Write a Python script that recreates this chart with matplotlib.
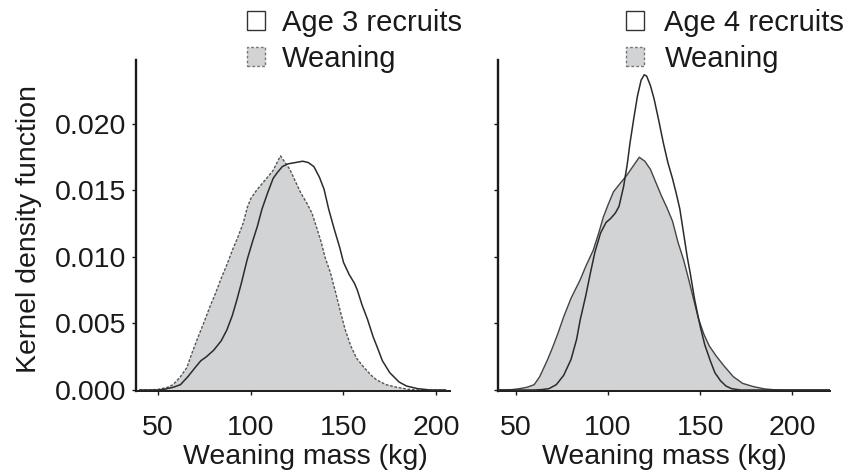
import matplotlib
matplotlib.use("Agg")
import matplotlib.pyplot as plt
from matplotlib.patches import Patch

plt.rcParams['font.family'] = ['Liberation Sans', 'DejaVu Sans']

# ---- data ----
# Left panel: weaning mass density
wean_L_x = [40, 45, 50, 55, 58, 62, 65.5, 68, 71, 75, 78, 81, 84, 87, 90, 93, 96, 98, 100, 103,
            106, 109, 112, 114.5, 116, 118, 121, 124, 127, 130, 133, 136, 138, 140, 143, 146,
            148.5, 151, 154, 157, 161, 165, 168, 173, 179, 185, 190, 205]
wean_L_y = [0, 0, 0.00005, 0.0002, 0.0004, 0.0010, 0.0017, 0.0027, 0.0038, 0.0052, 0.0063, 0.0073,
            0.0084, 0.0094, 0.0105, 0.0115, 0.0126, 0.0137, 0.0144, 0.0150, 0.0155, 0.0160, 0.0165,
            0.0172, 0.0176, 0.0172, 0.0166, 0.0157, 0.0148, 0.0141, 0.0133, 0.0120, 0.0111, 0.0100,
            0.0088, 0.0072, 0.0058, 0.0045, 0.0033, 0.0024, 0.0017, 0.0011, 0.00075, 0.0004, 0.0002,
            0.00005, 0, 0]
# Left panel: age 3 recruits
age3_x = [40, 50, 53, 58, 62, 66, 70, 73, 76, 80, 84, 87, 90, 92.5, 95, 98, 101, 103.5, 106, 109,
          112, 114, 117, 120, 124, 128, 131, 134, 137, 139.5, 142, 145, 148, 150, 153, 156, 157.5,
          160, 163, 166, 168, 171, 175, 180, 184, 190, 197, 205]
age3_y = [0, 0, 0.00005, 0.0002, 0.0004, 0.0010, 0.0017, 0.0022, 0.0025, 0.0030, 0.0037, 0.0045,
          0.0056, 0.0068, 0.0081, 0.0098, 0.0112, 0.0123, 0.0136, 0.0148, 0.0159, 0.0163, 0.0168,
          0.0170, 0.0171, 0.0172, 0.0171, 0.0168, 0.0160, 0.0151, 0.0136, 0.0121, 0.0107, 0.0096,
          0.0087, 0.0080, 0.0075, 0.0064, 0.0053, 0.0040, 0.0033, 0.0022, 0.0013, 0.0006, 0.0003,
          0.0001, 0, 0]
# Right panel: weaning mass density
wean_R_x = [40, 48, 52, 56, 60, 63, 67, 70, 73, 76, 80, 85, 88, 92, 95, 97.5, 100, 103, 107, 110,
            113, 117, 120, 123, 126, 129, 132, 135, 138, 141, 144, 146.5, 149, 152, 155, 159, 163,
            168, 173, 179, 185, 190, 195, 220]
wean_R_y = [0, 0.00003, 0.0001, 0.0002, 0.0004, 0.0010, 0.0022, 0.0032, 0.0043, 0.0055, 0.0069,
            0.0083, 0.0093, 0.0105, 0.0118, 0.0130, 0.0139, 0.0149, 0.0156, 0.0161, 0.0167, 0.0175,
            0.0172, 0.0166, 0.0156, 0.0146, 0.0137, 0.0127, 0.0111, 0.0098, 0.0082, 0.0068, 0.0054,
            0.0042, 0.0033, 0.0025, 0.0018, 0.0010, 0.0005, 0.00025, 0.00008, 0.00002, 0, 0]
# Right panel: age 4 recruits
age4_x = [40, 60, 64, 68, 72, 76, 80, 83, 85, 88, 90.5, 93, 96, 99, 101.5, 104, 106, 108.5, 110.5,
          112, 114, 116, 118, 119.7, 121, 123, 125, 127.5, 130, 132.5, 135, 137, 139, 141, 143,
          144.6, 147, 150, 152.5, 155.5, 158, 161, 164, 167, 172, 220]
age4_y = [0, 0, 0.00003, 0.0001, 0.0004, 0.0011, 0.0023, 0.0038, 0.0053, 0.0071, 0.0088, 0.0104,
          0.0118, 0.0126, 0.0129, 0.0133, 0.0138, 0.0153, 0.0170, 0.0186, 0.0204, 0.0221, 0.0233,
          0.0237, 0.0236, 0.0229, 0.0219, 0.0203, 0.0186, 0.0171, 0.0159, 0.0148, 0.0136, 0.0118,
          0.0100, 0.0088, 0.0068, 0.0048, 0.0034, 0.0022, 0.0013, 0.0007, 0.0003, 0.0001, 0, 0]

x_ticks = [50, 100, 150, 200]
y_ticks = [0.000, 0.005, 0.010, 0.015, 0.020]
y_tick_labels = ["0.000", "0.005", "0.010", "0.015", "0.020"]
xlabel = "Weaning mass (kg)"
ylabel = "Kernel density function"
legend_labels_L = ["Age 3 recruits", "Weaning"]
legend_labels_R = ["Age 4 recruits", "Weaning"]

# ---- style ----
FS = 20.5
FS_LEG = 21
FILL = '#d2d3d5'
LINE = '#2b2b2b'

fig = plt.figure(figsize=(8.48, 4.75), dpi=100)
W, H = 848, 475
top_px, bot_px = 60, 391
axL = fig.add_axes([136 / W, 1 - bot_px / H, (450 - 136) / W, (bot_px - top_px) / H])
axR = fig.add_axes([498 / W, 1 - bot_px / H, (830 - 498) / W, (bot_px - top_px) / H])

# left
axL.fill_between(wean_L_x, wean_L_y, 0, facecolor=FILL, edgecolor='none', zorder=1)
axL.plot(wean_L_x, wean_L_y, color='#555555', lw=1.0, ls=(0, (2, 1.2)), zorder=2)
axL.plot(age3_x, age3_y, color=LINE, lw=1.1, zorder=3)
axL.set_xlim(38.0, 207.5)

# right
axR.fill_between(wean_R_x, wean_R_y, 0, facecolor=FILL, edgecolor='none', zorder=1)
axR.plot(wean_R_x, wean_R_y, color='#444444', lw=1.0, zorder=2)
axR.plot(age4_x, age4_y, color=LINE, lw=1.1, zorder=3)
axR.set_xlim(40.4, 220.4)

for ax in (axL, axR):
    ax.set_ylim(-0.000075, 0.02481)
    for s in ('top', 'right'):
        ax.spines[s].set_visible(False)
    ax.spines['left'].set_linewidth(1.7)
    ax.spines['bottom'].set_linewidth(1.4)
    ax.spines['left'].set_color('#1a1a1a')
    ax.spines['bottom'].set_color('#1a1a1a')
    ax.set_xticks(x_ticks)
    ax.set_xticklabels([str(v) for v in x_ticks])
    ax.set_yticks(y_ticks)
    ax.tick_params(axis='x', direction='out', length=3, width=1, pad=14,
                   labelsize=FS, colors='#1a1a1a')
    ax.tick_params(axis='y', direction='out', length=3, width=1, pad=4,
                   labelsize=FS, colors='#1a1a1a')
    ax.set_xlabel(xlabel, fontsize=FS, color='#1a1a1a')

axL.set_yticklabels(y_tick_labels)
axR.set_yticklabels([])
axL.set_ylabel(ylabel, fontsize=FS, color='#1a1a1a')
axL.yaxis.set_label_coords(-0.30, 0.49)
axL.xaxis.set_label_coords(0.538, -0.16)
axR.xaxis.set_label_coords(0.50, -0.16)


def make_handles():
    return [Patch(facecolor='white', edgecolor='#333333', lw=1.0),
            Patch(facecolor=FILL, edgecolor='#777777', lw=1.0, ls=(0, (2, 1.5)))]


for labels, xpx, pad in ((legend_labels_L, 247, 0.6), (legend_labels_R, 626, 0.72)):
    fig.legend(make_handles(), labels, loc='upper left',
               bbox_to_anchor=(xpx / W, 1 - 9 / H), frameon=False, fontsize=FS_LEG,
               handlelength=0.6, handleheight=0.6, handletextpad=pad,
               labelspacing=0.27, borderpad=0, borderaxespad=0, labelcolor='#1a1a1a')

fig.savefig('out.png', dpi=100)
